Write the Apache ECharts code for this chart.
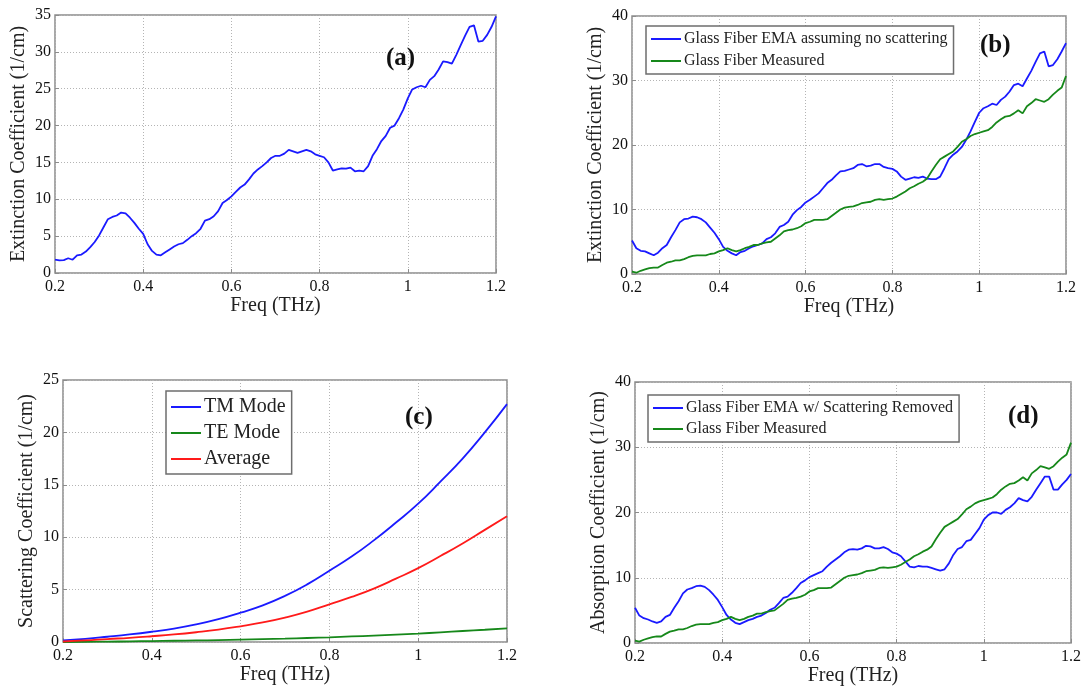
<!DOCTYPE html>
<html>
<head>
<meta charset="utf-8">
<script src="https://cdn.jsdelivr.net/npm/echarts@6/dist/echarts.min.js"></script>
<style>
  html, body { margin: 0; padding: 0; background: #fff; }
  #chart { width: 1084px; height: 687px; }
</style>
</head>
<body>
<div id="chart"></div>
<script>
// Frequency samples (THz) for the measured / EMA curves
const freq = [
  0.20,0.21,0.22,0.23,0.24,0.25,0.26,0.27,0.28,0.29,
  0.30,0.31,0.32,0.33,0.34,0.35,0.36,0.37,0.38,0.39,
  0.40,0.41,0.42,0.43,0.44,0.45,0.46,0.47,0.48,0.49,
  0.50,0.51,0.52,0.53,0.54,0.55,0.56,0.57,0.58,0.59,
  0.60,0.61,0.62,0.63,0.64,0.65,0.66,0.67,0.68,0.69,
  0.70,0.71,0.72,0.73,0.74,0.75,0.76,0.77,0.78,0.79,
  0.80,0.81,0.82,0.83,0.84,0.85,0.86,0.87,0.88,0.89,
  0.90,0.91,0.92,0.93,0.94,0.95,0.96,0.97,0.98,0.99,
  1.00,1.01,1.02,1.03,1.04,1.05,1.06,1.07,1.08,1.09,
  1.10,1.11,1.12,1.13,1.14,1.15,1.16,1.17,1.18,1.19,
  1.20
];

// (a) extinction coefficient (1/cm)
const extinctionA = [
  1.8,1.7,1.75,2.0,1.8,2.4,2.5,2.9,3.5,4.2,
  5.1,6.2,7.3,7.6,7.8,8.2,8.1,7.5,6.8,6.0,
  5.3,3.9,3.0,2.5,2.4,2.8,3.2,3.6,3.9,4.05,
  4.5,5.0,5.4,6.0,7.1,7.3,7.7,8.4,9.5,9.9,
  10.4,11.0,11.6,12.0,12.7,13.5,14.05,14.5,15.0,15.6,
  15.9,15.9,16.2,16.7,16.5,16.3,16.5,16.7,16.5,16.1,
  15.9,15.7,15.0,13.9,14.05,14.2,14.15,14.3,13.8,13.9,
  13.8,14.5,15.9,16.8,17.9,18.6,19.7,20.0,21.0,22.2,
  23.7,24.9,25.2,25.4,25.2,26.2,26.7,27.6,28.7,28.6,
  28.4,29.6,30.9,32.2,33.4,33.6,31.4,31.5,32.3,33.4,
  34.8
];

// (b) EMA assuming no scattering
const emaNoScatter = [
  5.2,4.0,3.6,3.5,3.2,2.9,3.3,4.0,4.5,5.7,
  6.8,8.0,8.5,8.6,8.9,8.8,8.5,8.0,7.2,6.4,
  5.4,4.2,3.6,3.2,2.9,3.4,3.6,4.0,4.3,4.5,
  4.75,5.4,5.7,6.3,7.3,7.6,8.1,9.2,9.9,10.4,
  11.1,11.5,12.0,12.5,13.3,14.1,14.6,15.3,15.9,16.0,
  16.2,16.4,16.9,17.05,16.7,16.8,17.05,17.05,16.6,16.4,
  16.3,15.9,15.1,14.6,14.8,15.0,14.9,15.1,14.8,14.7,
  14.7,15.1,16.4,17.8,18.5,19.0,19.7,20.8,22.1,23.6,
  25.0,25.7,26.0,26.4,26.2,27.0,27.5,28.3,29.3,29.5,
  29.1,30.3,31.5,32.9,34.2,34.5,32.2,32.4,33.3,34.5,
  35.8
];

// (b),(d) measured glass fiber
const measured = [
  0.35,0.2,0.5,0.7,0.9,1.0,1.0,1.4,1.75,1.9,
  2.1,2.1,2.3,2.6,2.8,2.9,2.9,2.9,3.1,3.2,
  3.5,3.7,4.0,3.7,3.5,3.7,4.0,4.2,4.5,4.5,
  4.75,4.9,5.0,5.5,6.0,6.6,6.8,6.9,7.1,7.4,
  7.9,8.1,8.4,8.4,8.4,8.5,9.0,9.5,10.0,10.3,
  10.4,10.5,10.7,11.0,11.1,11.2,11.5,11.6,11.5,11.6,
  11.7,12.0,12.4,12.8,13.3,13.6,14.0,14.3,14.8,15.9,
  16.9,17.8,18.2,18.6,19.0,19.7,20.5,20.9,21.4,21.7,
  21.9,22.1,22.3,22.8,23.5,24.0,24.4,24.5,24.9,25.4,
  24.9,26.0,26.5,27.1,26.9,26.7,27.1,27.8,28.4,28.9,
  30.7
];

// (d) EMA with scattering removed
const emaScatterRemoved = [
  5.4,4.2,3.8,3.6,3.3,3.1,3.3,4.0,4.3,5.4,
  6.4,7.6,8.2,8.4,8.7,8.8,8.6,8.1,7.4,6.6,
  5.5,4.3,3.6,3.1,2.9,3.2,3.5,3.7,4.0,4.2,
  4.6,5.1,5.4,6.1,6.9,7.1,7.7,8.4,9.2,9.6,
  10.1,10.4,10.7,11.0,11.7,12.3,12.8,13.3,13.9,14.3,
  14.4,14.3,14.5,14.9,14.8,14.5,14.5,14.7,14.4,13.9,
  13.7,13.3,12.5,11.7,11.6,11.8,11.7,11.7,11.5,11.3,
  11.1,11.3,12.2,13.5,14.4,14.7,15.6,15.8,16.7,17.6,
  18.9,19.6,20.0,20.0,19.8,20.4,20.8,21.4,22.2,21.9,
  21.7,22.4,23.5,24.5,25.5,25.5,23.5,23.5,24.3,25.0,
  25.9
];

// (c) scattering coefficient samples
const freqC = [0.20,0.25,0.30,0.35,0.40,0.45,0.50,0.55,0.60,0.65,0.70,0.75,0.80,0.85,0.90,0.95,1.00,1.05,1.10,1.15,1.20];
const tmMode  = [0.15,0.3,0.5,0.72,0.98,1.28,1.68,2.18,2.8,3.5,4.4,5.5,6.8,8.15,9.7,11.4,13.2,15.3,17.5,20.0,22.7];
const teMode  = [0.0,0.02,0.04,0.06,0.09,0.12,0.15,0.18,0.22,0.27,0.32,0.38,0.45,0.53,0.61,0.7,0.8,0.92,1.05,1.17,1.3];
const average = [0.05,0.15,0.28,0.4,0.55,0.72,0.93,1.18,1.5,1.87,2.33,2.9,3.6,4.3,5.1,6.05,7.05,8.2,9.4,10.7,12.0];

const BLUE = '#1a1aff', GREEN = '#16881a', RED = '#ff1a1a';
const SERIF = '"Liberation Serif", "Times New Roman", serif';
const BORDER = '#8c8c8c';

const pairs = (xs, ys) => xs.map((x, i) => [x, ys[i]]);

const grids = [
  { left: 55,  top: 15,  width: 441, height: 258 },
  { left: 632, top: 16,  width: 434, height: 258 },
  { left: 63,  top: 380, width: 444, height: 262 },
  { left: 635, top: 382, width: 438, height: 261 }
].map(g => Object.assign({ show: true, borderColor: BORDER, borderWidth: 1.5, backgroundColor: '#fff', containLabel: false }, g));

const dotted = { type: [1, 2], color: '#b4b4b4', width: 1 };

function xAxisFor(i) {
  return {
    type: 'value', gridIndex: i, min: 0.2, max: 1.2, interval: 0.2,
    name: 'Freq (THz)', nameLocation: 'middle', nameGap: 20,
    nameTextStyle: { fontFamily: SERIF, fontSize: 20, color: '#222' },
    axisLine: { show: false },
    axisTick: { show: true, inside: true, length: 4, lineStyle: { color: BORDER } },
    axisLabel: { fontFamily: SERIF, fontSize: 16, color: '#111', margin: 6,
                 formatter: v => String(+v.toFixed(1)) },
    splitLine: { show: true, lineStyle: dotted }
  };
}
function yAxisFor(i, max, interval, name) {
  return {
    type: 'value', gridIndex: i, min: 0, max: max, interval: interval,
    name: name, nameLocation: 'middle', nameGap: 26,
    nameTextStyle: { fontFamily: SERIF, fontSize: 20, color: '#222' },
    axisLine: { show: false },
    axisTick: { show: true, inside: true, length: 4, lineStyle: { color: BORDER } },
    axisLabel: { fontFamily: SERIF, fontSize: 16, color: '#111', margin: 4 },
    splitLine: { show: true, lineStyle: dotted }
  };
}

function line(name, xi, data, color, smooth) {
  return {
    type: 'line', name: name, xAxisIndex: xi, yAxisIndex: xi, data: data,
    symbol: 'none', smooth: !!smooth, animation: false,
    lineStyle: { color: color, width: 1.8 }, itemStyle: { color: color }
  };
}

const legendBase = {
  orient: 'vertical', icon: 'rect', itemWidth: 30, itemHeight: 2,
  backgroundColor: '#fff', borderColor: '#6e6e6e', borderWidth: 1.5, borderRadius: 0,
  selectedMode: false
};

const option = {
  animation: false,
  grid: grids,
  xAxis: [0, 1, 2, 3].map(xAxisFor),
  yAxis: [
    yAxisFor(0, 35, 5, 'Extinction Coefficient (1/cm)'),
    yAxisFor(1, 40, 10, 'Extinction Coefficient (1/cm)'),
    yAxisFor(2, 25, 5, 'Scattering Coefficient (1/cm)'),
    yAxisFor(3, 40, 10, 'Absorption Coefficient (1/cm)')
  ],
  title: [
    { text: '(a)', left: 386, top: 46 },
    { text: '(b)', left: 980, top: 33 },
    { text: '(c)', left: 405, top: 405 },
    { text: '(d)', left: 1008, top: 404 }
  ].map(t => Object.assign({ padding: 0, textStyle: { fontFamily: SERIF, fontSize: 25, fontWeight: 'bold', color: '#111' } }, t)),
  legend: [
    Object.assign({}, legendBase, {
      left: 646, top: 26, itemGap: 6, padding: [5, 6, 5, 5],
      data: ['Glass Fiber EMA assuming no scattering', 'Glass Fiber Measured'],
      textStyle: { fontFamily: SERIF, fontSize: 16, color: '#222', padding: [0, 0, 0, -2] }
    }),
    Object.assign({}, legendBase, {
      left: 166, top: 391, itemGap: 6, padding: [6, 6, 5, 5],
      data: ['TM Mode', 'TE Mode', 'Average'],
      textStyle: { fontFamily: SERIF, fontSize: 20, color: '#222', padding: [0, 0, 0, -2] }
    }),
    Object.assign({}, legendBase, {
      left: 648, top: 395, itemGap: 5, padding: [5, 6, 5, 5],
      data: ['Glass Fiber EMA w/ Scattering Removed', 'Glass Fiber Measured '],
      textStyle: { fontFamily: SERIF, fontSize: 16, color: '#222', padding: [0, 0, 0, -2] }
    })
  ],
  series: [
    line('Extinction', 0, pairs(freq, extinctionA), BLUE),
    line('Glass Fiber EMA assuming no scattering', 1, pairs(freq, emaNoScatter), BLUE),
    line('Glass Fiber Measured', 1, pairs(freq, measured), GREEN),
    line('TM Mode', 2, pairs(freqC, tmMode), BLUE, true),
    line('TE Mode', 2, pairs(freqC, teMode), GREEN, true),
    line('Average', 2, pairs(freqC, average), RED, true),
    line('Glass Fiber EMA w/ Scattering Removed', 3, pairs(freq, emaScatterRemoved), BLUE),
    line('Glass Fiber Measured ', 3, pairs(freq, measured), GREEN)
  ]
};

const chart = echarts.init(document.getElementById('chart'), null, { renderer: 'canvas' });
chart.setOption(option);
</script>
</body>
</html>
